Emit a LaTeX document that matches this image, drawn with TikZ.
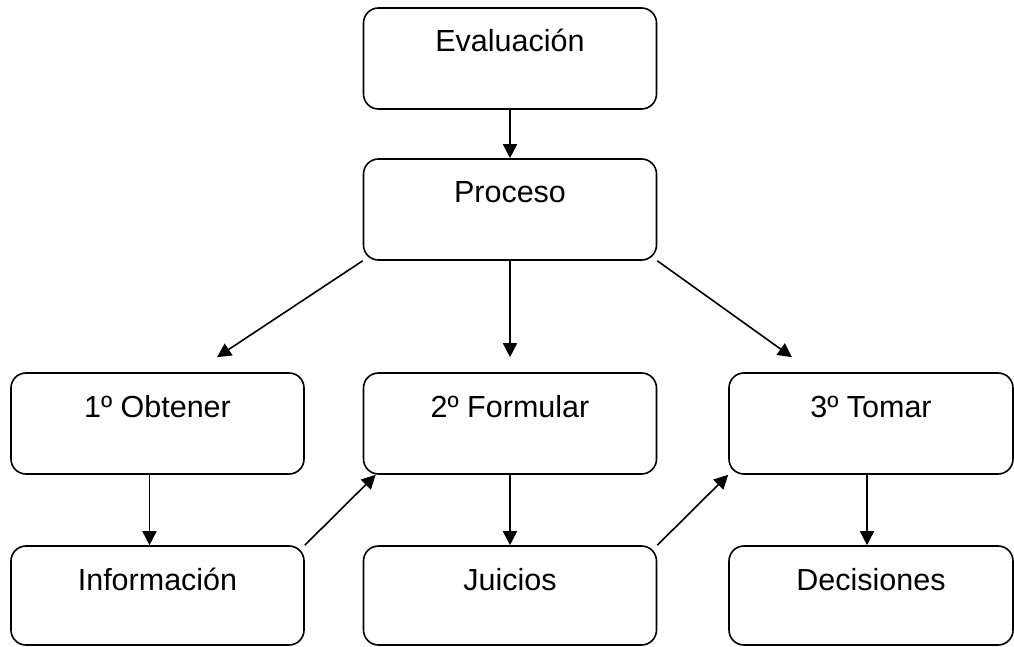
\documentclass[tikz,border=0pt]{standalone}
\usepackage{fontspec}
\setmainfont{Liberation Sans}
\usepackage{tikz}
\usepackage{xcolor}
\usetikzlibrary{arrows.meta}

\begin{document}
\begin{tikzpicture}[x=1pt, y=1pt, node distance=151pt,
        every node/.style={font=\fontsize{30.5}{36}\selectfont},
        box/.style={draw, line width=1.6pt, rounded corners=15pt, minimum width=293pt,
            inner xsep=0pt, inner ysep=0pt, text height=44pt, text depth=57pt},
        arr/.style={line width=1.6pt, -{Triangle[length=14pt, width=14pt]}}]
        \useasboundingbox (0,0) rectangle (1014,646);
        % Top node
        \node (eval) [box] at (510,587.5) {Evaluación};
        % Process node
        \node (proc) [box, below of=eval] {Proceso};
        % Steps
        \node (form) [box, below of=proc, yshift=-63pt] {2º Formular};
        \node (obt) [box, left of=form, xshift=-201.5pt] {1º Obtener};
        \node (tom) [box, right of=form, xshift=210pt, minimum width=284pt] {3º Tomar};
        % Results
        \node (info) [box, below of=obt, yshift=-21pt, text depth=55pt] {Información};
        \node (juic) [box, below of=form, yshift=-21pt, text depth=55pt] {Juicios};
        \node (deci) [box, below of=tom, yshift=-21pt, text depth=55pt, minimum width=284pt] {Decisiones};

        % Free ends above the steps
        \coordinate (obt-in) at ([xshift=59.5pt, yshift=15pt]obt.north);
        \coordinate (form-in) at ([yshift=15pt]form.north);
        \coordinate (tom-in) at ([xshift=-79pt, yshift=15pt]tom.north);

        % Arrows from the top
        \path[arr] (eval) edge (proc);
        \path[arr] (proc.south west) edge (obt-in);
        \path[arr] (proc) edge (form-in);
        \path[arr] (proc.south east) edge (tom-in);

        % Arrows down to the results
        \path[arr] ([xshift=-8pt]obt.south) edge ([xshift=-8pt]info.north);
        \path[arr] (form) edge (juic);
        \path[arr] ([xshift=-4pt]tom.south) edge ([xshift=-4pt]deci.north);

        % Arrows from a result to the next step
        \path[arr] (info.north east) edge ([xshift=13pt]form.south west);
        \path[arr] (juic.north east) edge (tom.south west);
    \end{tikzpicture}
\end{document}
